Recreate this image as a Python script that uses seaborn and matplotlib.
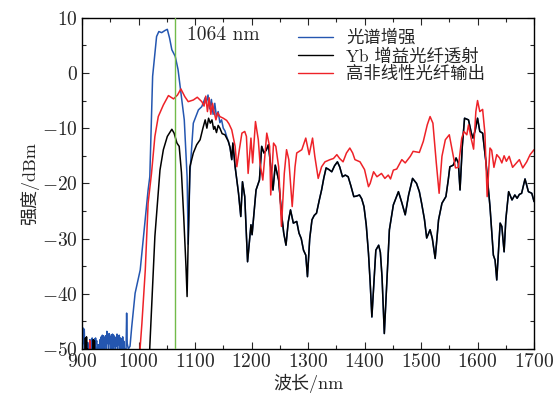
import numpy as np
import pandas as pd
import matplotlib
matplotlib.use('Agg')
import matplotlib.pyplot as plt
import seaborn as sns
from matplotlib.ticker import MultipleLocator

# 光谱增强 (blue) - noisy floor, then the enhanced peak
blue_nm = [900, 901, 902, 903, 904, 905, 906, 907, 908, 909, 910, 911, 912, 913, 914, 915,
           916, 917, 918, 919, 920, 921, 922, 923, 924, 925, 926, 927, 928, 929, 930, 931,
           932, 933, 934, 935, 936, 937, 938, 939, 940, 941, 942, 943, 944, 945, 946, 947,
           948, 949, 950, 951, 952, 953, 954, 955, 956, 957, 958, 959, 960, 961, 962, 963,
           964, 965, 966, 967, 968, 969, 970, 971, 972, 973, 974, 975, 976, 977, 978, 979,
           980, 982, 985, 988, 991, 994, 1003, 1010, 1017, 1020, 1025, 1032, 1036, 1041,
           1047, 1051, 1055, 1059, 1065, 1070, 1076, 1081, 1084, 1086, 1088, 1091, 1097,
           1106, 1112, 1118, 1120, 1123, 1126, 1129, 1132, 1135, 1138, 1141, 1144, 1147,
           1150, 1153, 1156]
blue_db = [-46, -50, -46.2, -49, -46.4, -50, -48.5, -50, -49, -50, -48.8, -50, -49.5, -50,
           -48.3, -50, -48.6, -50, -48, -50, -48.5, -49.6, -48.2, -50, -48, -49, -48.5, -50,
           -49.2, -50, -49.3, -50, -48.3, -50, -47.8, -50, -47.5, -49.5, -47.6, -50, -47.9,
           -49.3, -47.6, -50, -46.8, -49, -47.4, -50, -47.2, -49, -47.8, -50, -47.4, -49.2,
           -47.3, -50, -47.5, -49.5, -47.8, -50, -48, -49.5, -47.3, -50, -47.6, -49.2, -47.5,
           -50, -48, -50, -48.2, -50, -47.8, -50, -48.6, -50, -50, -50, -50, -43.5, -49,
           -50, -49.5, -46, -43, -39.9, -35.7, -28.5, -21.2, -18.8, -0.6, 6.6, 7.5, 7.3, 7.7,
           7.9, 6.3, 4.2, 3.0, 0.6, -4.3, -8.5, -14.5, -18.8, -31, -18.1, -9.1, -6.7, -6.1,
           -4.5, -5.5, -4.0, -6.5, -4.8, -7.5, -5.5, -8.0, -7.0, -9.0, -8.5, -10.0, -10.5,
           -11.5]

# Yb 增益光纤透射 (black)
black_nm = [900, 905, 906, 907, 908, 909, 910, 911, 919, 920, 921, 922, 923, 1019, 1020, 1029,
            1038, 1044, 1051, 1059, 1063, 1068, 1072, 1076, 1080, 1084, 1086, 1088, 1091,
            1097, 1103, 1109, 1114, 1118, 1121, 1124, 1127, 1130, 1133, 1135, 1138, 1141,
            1144, 1148, 1153, 1159, 1162, 1165, 1167, 1171, 1174, 1177, 1181, 1184, 1188,
            1193, 1199, 1201, 1208, 1214, 1218, 1222, 1226, 1230, 1234, 1238, 1242, 1248,
            1253, 1257, 1261, 1265, 1269, 1274, 1280, 1284, 1288, 1292, 1296, 1299, 1303,
            1307, 1311, 1315, 1320, 1324, 1328, 1332, 1337, 1342, 1347, 1352, 1356, 1361,
            1366, 1371, 1376, 1381, 1386, 1391, 1395, 1399, 1403, 1407, 1410, 1413, 1416,
            1420, 1425, 1428, 1431, 1435, 1439, 1444, 1451, 1460, 1466, 1472, 1478, 1485,
            1492, 1497, 1501, 1506, 1510, 1516, 1520, 1525, 1531, 1537, 1544, 1548, 1551,
            1557, 1562, 1566, 1569, 1573, 1577, 1584, 1589, 1592, 1596, 1600, 1604, 1609,
            1615, 1622, 1628, 1631, 1634, 1640, 1643, 1647, 1650, 1655, 1661, 1666, 1670,
            1674, 1678, 1684, 1690, 1696, 1700]
black_db = [-52, -52, -48, -52, -47.8, -52, -50, -52, -52, -48.3, -52, -48.5, -52, -52, -49.6,
            -29.6, -17.6, -13.9, -11.5, -10.2, -10.9, -12.7, -13.3, -18, -26, -35, -40.5,
            -30, -17, -14.5, -13, -12.1, -10, -8.5, -10, -8.2, -9.1, -8.5, -10.2, -9.7,
            -10.8, -9.5, -10, -11, -11.2, -12.4, -13.5, -15.7, -12.7, -17.0, -19.4, -21.8,
            -26.0, -19.7, -22.4, -34.2, -27.5, -29.3, -21.2, -19.4, -13.3, -14.5, -14,
            -13.0, -17.0, -21.2, -16.7, -19.4, -25.4, -29, -31.2, -27, -24.8, -27.2, -26.9,
            -29.0, -30, -32.1, -33, -36.9, -30, -26.6, -25.8, -25.4, -23, -21.2, -19, -17.2,
            -17.5, -17.9, -16.8, -16.1, -17, -18.8, -18.5, -18.8, -20.5, -22.4, -22.3,
            -22.1, -22.8, -24.2, -27.5, -32.7, -38, -44.2, -39, -32.1, -31.2, -32.5, -37,
            -47.2, -38.7, -28.4, -23.9, -21.5, -23.5, -25.7, -22.1, -19.1, -20.0, -21.5,
            -23.6, -26.5, -29.9, -28.4, -30, -33.6, -26.6, -23.6, -22.4, -19.5, -17.0,
            -16.7, -15.4, -16.3, -21.2, -13.3, -8.2, -8.5, -10.9, -11.8, -10.3, -8.2, -10.6,
            -10.9, -16.3, -24.2, -33.0, -33.9, -37.5, -27.2, -27.8, -32.4, -26.6, -21.5,
            -23.0, -22.1, -22.7, -22, -21.8, -19.2, -21.5, -21.8, -23.3]

# 高非线性光纤输出 (red)
red_nm = [900, 913, 914, 915, 1002, 1003, 1006, 1012, 1017, 1023, 1029, 1035, 1044, 1053,
          1062, 1069, 1075, 1082, 1088, 1097, 1104, 1112, 1116, 1119, 1122, 1125, 1128, 1131,
          1133, 1137, 1140, 1144, 1150, 1156, 1160, 1165, 1171, 1174, 1178, 1183, 1188, 1191,
          1194, 1199, 1202, 1207, 1212, 1215, 1220, 1227, 1232, 1234, 1239, 1243, 1248, 1253,
          1258, 1262, 1266, 1272, 1277, 1280, 1289, 1296, 1302, 1308, 1312, 1318, 1324, 1330,
          1339, 1345, 1351, 1356, 1362, 1368, 1374, 1379, 1383, 1392, 1400, 1407, 1410, 1416,
          1422, 1430, 1436, 1442, 1446, 1451, 1457, 1466, 1472, 1481, 1486, 1497, 1504, 1511,
          1516, 1521, 1527, 1532, 1537, 1543, 1550, 1556, 1561, 1566, 1572, 1576, 1581, 1584,
          1589, 1593, 1597, 1600, 1604, 1609, 1613, 1617, 1622, 1625, 1629, 1634, 1639, 1643,
          1647, 1651, 1656, 1662, 1669, 1674, 1680, 1687, 1693, 1700]
red_db = [-52, -52, -48.5, -52, -52, -49.6, -45.4, -35.7, -23.6, -18.2, -11.5, -7.9, -5.8,
          -4.1, -4.7, -4.0, -2.9, -4.3, -5.2, -4.9, -4.4, -5.2, -6, -4.2, -7, -4.5, -7.5, -5.5,
          -6.7, -8.5, -7.2, -7.9, -8.2, -8.6, -9.2, -10.3, -13.3, -17.0, -14.2, -10.9, -10.6,
          -11.5, -18.2, -11.8, -16.3, -8.8, -12.1, -16.3, -19.4, -10.9, -13.3, -22.1, -12.7,
          -13.3, -17.0, -27.8, -18.2, -13.9, -15.7, -24.2, -17.0, -14.5, -13.9, -11.8, -14.8,
          -11.8, -15.1, -19.1, -17, -16.1, -15.7, -15.5, -14.8, -15.5, -16.1, -14.5, -13.6,
          -14.5, -15.7, -16.1, -17.5, -20.6, -20, -17.9, -18.8, -18.2, -19.1, -18.5, -19.2,
          -17.6, -17.4, -15.7, -16.3, -15.1, -14.2, -14.4, -12.4, -9.4, -7.9, -9.1, -16.3,
          -21.8, -15.1, -12.1, -11.2, -14.5, -17.2, -17.1, -11.8, -10.6, -11.2, -9.4, -12,
          -13.8, -7.0, -5.0, -7.0, -6.6, -10.9, -22.4, -13.6, -14, -17.1, -14.8, -15.4, -16.3,
          -15.0, -16, -15.1, -17.1, -16.3, -15.7, -17.2, -16.1, -14.8, -13.9]

# blue coincides with the black curve beyond ~1159 nm
blue_nm = blue_nm + [n for n in black_nm if n >= 1159]
blue_db = blue_db + [d for n, d in zip(black_nm, black_db) if n >= 1159]

labels = ['光谱增强', 'Yb 增益光纤透射', '高非线性光纤输出']
colors = ['#2456b0', '#000000', '#ee2228']

sns.set_theme(style='ticks')
plt.rcParams['font.family'] = ['cmr10', 'Noto Sans CJK SC']
plt.rcParams['mathtext.fontset'] = 'cm'
plt.rcParams['axes.formatter.use_mathtext'] = True
plt.rcParams['axes.unicode_minus'] = True

fig = plt.figure(figsize=(5.54, 4.03), dpi=100)
ax = fig.add_axes([0.148, 0.134, 0.816, 0.822])

series = [(blue_nm, blue_db), (black_nm, black_db), (red_nm, red_db)]
for (xs, ys), lab, col in zip(series, labels, colors):
    df = pd.DataFrame({'nm': xs, 'db': ys})
    sns.lineplot(data=df, x='nm', y='db', ax=ax, color=col, lw=1.1,
                 sort=False, estimator=None, label=lab)

ax.axvline(1064, color='#72bb4a', lw=1.0, zorder=5)
ax.text(1086, 6.8, '1064 nm', fontsize=14, va='center')

ax.set_xlim(900, 1700)
ax.set_ylim(-50, 10)
ax.xaxis.set_major_locator(MultipleLocator(100))
ax.xaxis.set_minor_locator(MultipleLocator(50))
ax.yaxis.set_major_locator(MultipleLocator(10))
ax.yaxis.set_minor_locator(MultipleLocator(5))
ax.tick_params(which='both', direction='in', top=True, right=True, labelsize=14, width=0.8)
ax.tick_params(which='major', length=5)
ax.tick_params(which='minor', length=3)
ax.tick_params(axis='x', pad=3)
ax.tick_params(axis='y', pad=3)
for s in ax.spines.values():
    s.set_linewidth(1.0)
    s.set_color('black')

ax.set_xlabel('波长/nm', fontsize=13, labelpad=2)
ax.set_ylabel('强度/dBm', fontsize=13, labelpad=2)

leg = ax.legend(loc='upper left', frameon=False, fontsize=12.5, handlelength=2.0,
                handletextpad=0.8, labelspacing=0.1, borderaxespad=0.0,
                bbox_to_anchor=(0.462, 0.985))
for line in leg.get_lines():
    line.set_linewidth(1.0)

fig.savefig('out.png', dpi=100)
